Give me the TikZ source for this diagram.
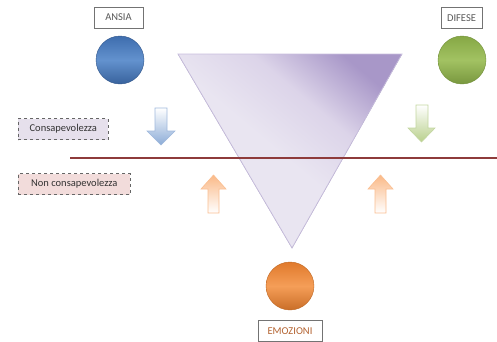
\documentclass[tikz,border=0pt]{standalone}
\usepackage{fontspec}
\setmainfont{Carlito}
\definecolor{trilight}{HTML}{E9E5F1}\definecolor{trimid}{HTML}{DCD4E9}\definecolor{tridark}{HTML}{A897C8}
\pgfdeclareverticalshading{trishade}{100bp}{color(0bp)=(trilight); color(48bp)=(trilight); color(62bp)=(trimid); color(76bp)=(tridark); color(100bp)=(tridark)}
\begin{document}
\begin{tikzpicture}[x=1pt,y=-1pt,
  lbl/.style={draw=black!55,line width=0.6pt,fill=white,minimum height=21pt,inner sep=2pt,font=\fontsize{10.5}{12}\selectfont,text=black!65},
  side/.style={draw=black!60,dashed,line width=0.6pt,minimum height=21pt,inner sep=2pt,font=\fontsize{10.5}{12}\selectfont,text=black!80,anchor=west},
  ball/.style={circle,minimum size=48pt,inner sep=0pt},
]
\useasboundingbox (0,0) rectangle (497,341);
\definecolor{bluetop}{HTML}{3E6DAE}\definecolor{bluemid}{HTML}{6392CE}
\definecolor{greentop}{HTML}{86A845}\definecolor{greenmid}{HTML}{A2C262}
\definecolor{orgtop}{HTML}{E07A2C}\definecolor{orgmid}{HTML}{F59E58}
\definecolor{lineclr}{HTML}{8E3B3B}
% triangle
\fill[shading=trishade,shading angle=-40]
  (178,54) -- (402,54) -- (292,248) -- cycle;
\draw[draw={rgb,255:red,200;green,190;blue,222},line width=0.8pt] (178,54) -- (402,54) -- (292,248) -- cycle;
% horizontal line
\coordinate (l1) at (70,158); \coordinate (l2) at (497,158);
\draw[lineclr,line width=1.1pt] (l1) -- (l2);
% labels
\node[lbl,minimum width=49pt] (ansia) at (118.5,17.5) {ANSIA};
\node[lbl,minimum width=41pt] (difese) at (461.5,18) {DIFESE};
\node[lbl,minimum width=64pt,text={rgb,255:red,180;green,100;blue,50}] (emo) at (290,331) {EMOZIONI};
% balls
\node[ball,top color=bluetop,bottom color=bluetop!90!black,middle color=bluemid,draw=bluetop!80!black,line width=0.4pt] (b1) at (120,60) {};
\node[ball,top color=greentop,bottom color=greentop!90!black,middle color=greenmid,draw=greentop!85!black,line width=0.4pt] (b2) at (462,60) {};
\node[ball,top color=orgtop,bottom color=orgtop!90!black,middle color=orgmid,draw=orgtop!85!black,line width=0.4pt] (b3) at (290,286) {};
% side boxes
\node[side,fill={rgb,255:red,230;green,224;blue,236},minimum width=90pt] (cons) at (18,129) {Consapevolezza};
\node[side,fill={rgb,255:red,242;green,220;blue,219},minimum width=112pt] (ncons) at (18,184) {Non consapevolezza};
% arrows down
\path[draw={rgb,255:red,160;green,185;blue,220},line width=0.6pt,top color=white,bottom color={rgb,255:red,140;green,172;blue,215}]
  (155,108) -- (167,108) -- (167,131) -- (175,131) -- (161,145) -- (147,131) -- (155,131) -- cycle;
\path[draw={rgb,255:red,195;green,214;blue,160},line width=0.6pt,top color=white,bottom color={rgb,255:red,185;green,208;blue,140}]
  (416,105) -- (428,105) -- (428,128) -- (435,128) -- (421.5,142) -- (408,128) -- (416,128) -- cycle;
% arrows up
\path[draw={rgb,255:red,250;green,190;blue,145},line width=0.6pt,bottom color=white,top color={rgb,255:red,250;green,185;blue,135}]
  (208,213) -- (219,213) -- (219,189) -- (226,189) -- (213.5,175) -- (201,189) -- (208,189) -- cycle;
\path[draw={rgb,255:red,250;green,190;blue,145},line width=0.6pt,bottom color=white,top color={rgb,255:red,250;green,185;blue,135}]
  (375,213) -- (386,213) -- (386,189) -- (393,189) -- (380.5,175) -- (368,189) -- (375,189) -- cycle;
\end{tikzpicture}
\end{document}
